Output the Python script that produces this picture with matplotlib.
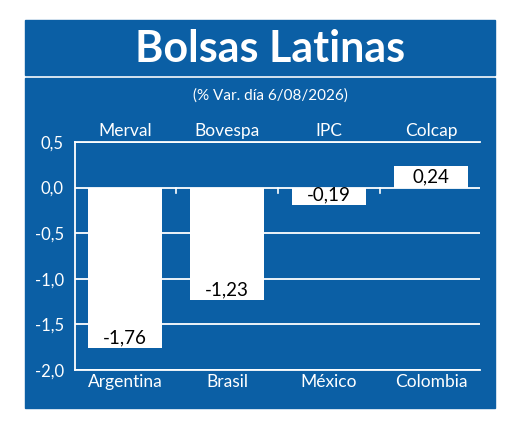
import matplotlib
matplotlib.use("Agg")
import matplotlib.pyplot as plt
from matplotlib.patches import Rectangle

indices = ["Merval", "Bovespa", "IPC", "Colcap"]
countries = ["Argentina", "Brasil", "México", "Colombia"]
values = [-1.76, -1.23, -0.19, 0.24]
yticks = [0.5, 0.0, -0.5, -1.0, -1.5, -2.0]
title = "Bolsas Latinas"
subtitle = "(% Var. día 6/08/2026)"

blue = "#0b5fa5"
W, H = 520, 429
fig = plt.figure(figsize=(W/100, H/100), dpi=100)
fig.patch.set_facecolor("white")
def fx(x): return x / W
def fy(y): return 1 - y / H
bg = fig.add_axes([0, 0, 1, 1], zorder=0)
bg.set_xlim(0, 1); bg.set_ylim(0, 1); bg.axis("off")
bg.add_patch(Rectangle((fx(25), fy(408)), fx(495)-fx(25), fy(78)-fy(408), color=blue))
bg.add_patch(Rectangle((fx(25), fy(75)), fx(495)-fx(25), fy(20)-fy(75), color=blue))
bg.text(fx(270), fy(49), title, ha="center", va="center", color="white",
        fontsize=31, fontweight="bold", family="Lato")
bg.text(fx(270), fy(96), subtitle, ha="center", va="center", color="white",
        fontsize=11, family="Lato")

ax = fig.add_axes([fx(75), fy(370), fx(480)-fx(75), fy(142)-fy(370)], zorder=1)
ax.patch.set_alpha(0)
x = list(range(len(values)))
ax.bar(x, values, width=0.73, color="white", zorder=3)
ax.set_xlim(-0.49, 3.48)
ax.set_ylim(-2.0, 0.5)
for v in yticks:
    ax.axhline(v, color="white", lw=1.3, zorder=1)
for i in range(3):
    ax.plot([i+0.5, i+0.5], [0, -0.06], color="white", lw=1.2, zorder=2)
for s in ["left", "bottom", "top"]:
    ax.spines[s].set_color("white"); ax.spines[s].set_linewidth(1.3)
ax.spines["right"].set_visible(False)
ax.set_yticks(yticks)
ax.set_yticklabels([f"{v:.1f}".replace(".", ",") for v in yticks], color="white",
                   fontsize=12, family="Lato")
ax.tick_params(length=0, pad=8)
ax.set_xticks(x)
ax.set_xticklabels(countries, color="white", fontsize=12.5, family="Lato")
ax.tick_params(axis="x", pad=3)
for i, (n, v) in enumerate(zip(indices, values)):
    ax.text(i, 0.62, n, ha="center", va="center", color="white", fontsize=12.5,
            family="Lato", clip_on=False)
    lab = f"{v:.2f}".replace(".", ",")
    if v < 0:
        ax.text(i, v + 0.02, lab, ha="center", va="bottom", color="black", fontsize=13.5,
                family="Lato", zorder=4)
    else:
        ax.text(i, v/2, lab, ha="center", va="center", color="black", fontsize=13.5,
                family="Lato", zorder=4)
fig.savefig("out.png", dpi=100, facecolor="white")
